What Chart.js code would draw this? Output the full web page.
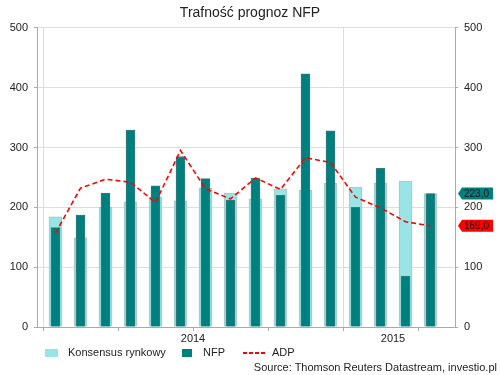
<!DOCTYPE html>
<html>
<head>
<meta charset="utf-8">
<script src="https://cdn.jsdelivr.net/npm/chart.js@4.4.1/dist/chart.umd.min.js"></script>
<style>
  html, body { margin: 0; padding: 0; background: #fff; }
  #wrap { position: relative; width: 500px; height: 375px; font-family: "Liberation Sans", Arial, sans-serif; color: #222; }
  #c { position: absolute; left: 0; top: 0; }
  .lg { position: absolute; font-size: 11px; line-height: 13px; white-space: nowrap; }
  .box { position: absolute; height: 8px; }
  .dash { position: absolute; height: 2px; width: 24px;
          background: linear-gradient(to right, #ff0000 0 4px, transparent 4px 6px); background-size: 6px 2px; }
</style>
</head>
<body>
<div id="wrap">
  <canvas id="c" width="500" height="375"></canvas>
  <div class="box" style="left:45px; top:349px; width:13px; background:#99e5e5;"></div>
  <div class="lg" style="left:68px; top:346px;">Konsensus rynkowy</div>
  <div class="box" style="left:182px; top:349px; width:10px; background:#007f7f;"></div>
  <div class="lg" style="left:203px; top:346px;">NFP</div>
  <div class="dash" style="left:243px; top:352px;"></div>
  <div class="lg" style="left:272px; top:346px;">ADP</div>
  <div class="lg" style="right:3px; top:361px;">Source: Thomson Reuters Datastream, investio.pl</div>
</div>
<script>
// ---- data ----
const months = ['2014-01','2014-02','2014-03','2014-04','2014-05','2014-06','2014-07','2014-08',
                '2014-09','2014-10','2014-11','2014-12','2015-01','2015-02','2015-03','2015-04'];
const consensus = [184, 149, 200, 209, 217, 211, 232, 224, 214, 231, 229, 240, 234, 240, 244, 223];
const nfp       = [166, 187, 224, 329, 236, 285, 248, 212, 249, 220, 423, 328, 200, 265, 85, 223];
const adp       = [157, 232, 247, 242, 208, 295, 231, 214, 249, 230, 283, 275, 217, 199, 176, 169];
const yTicks = [0, 100, 200, 300, 400, 500];
const yearLabels = { '5.5': '2014', '13.5': '2015' };
const quarterTicks = [-0.5, 2.5, 5.5, 8.5, 11.5, 14.5];

const pts = arr => arr.map((v, i) => ({ x: i, y: v }));

Chart.defaults.font.family = '"Liberation Sans", Arial, sans-serif';
Chart.defaults.font.size = 11;
Chart.defaults.color = '#222';

const tagPlugin = {
  id: 'tags',
  afterDatasetsDraw(chart) {
    const ctx = chart.ctx, y = chart.scales.y;
    const tags = [
      { v: nfp[nfp.length - 1], bg: '#007f7f' },
      { v: adp[adp.length - 1], bg: '#ff0000' }
    ];
    ctx.save();
    tags.forEach(t => {
      const py = y.getPixelForValue(t.v);
      const x0 = 458, x1 = 462, x2 = 493, h = 6;
      ctx.fillStyle = t.bg;
      ctx.beginPath();
      ctx.moveTo(x0, py);
      ctx.lineTo(x1, py - h);
      ctx.lineTo(x2, py - h);
      ctx.lineTo(x2, py + h);
      ctx.lineTo(x1, py + h);
      ctx.closePath();
      ctx.fill();
      ctx.fillStyle = '#111';
      ctx.font = '10px "Liberation Sans", Arial, sans-serif';
      ctx.textBaseline = 'middle';
      ctx.textAlign = 'left';
      ctx.fillText(t.v.toFixed(1).replace('.', ','), 464, py + 0.5);
    });
    ctx.restore();
  }
};

new Chart(document.getElementById('c'), {
  type: 'bar',
  data: {
    datasets: [
      { label: 'Konsensus rynkowy', data: pts(consensus), backgroundColor: '#99e5e5',
        borderColor: '#a9c3c3', borderWidth: 1, barThickness: 13, grouped: false, order: 2 },
      { label: 'NFP', data: pts(nfp), backgroundColor: '#007f7f',
        borderColor: '#3d7a7a', borderWidth: 1, barThickness: 9, grouped: false, order: 1 },
      { label: 'ADP', type: 'line', data: pts(adp), borderColor: '#ff0000', borderWidth: 1.6,
        borderDash: [5, 3], pointRadius: 0, fill: false, tension: 0, order: 0 }
    ]
  },
  options: {
    responsive: false,
    animation: false,
    layout: { padding: { left: 0, right: 0, top: 0, bottom: 30 } },
    plugins: {
      legend: { display: false },
      tooltip: { enabled: false },
      title: { display: true, text: 'Trafność prognoz NFP', color: '#222',
               font: { size: 14, weight: 'normal' }, padding: { top: 5, bottom: 6 } }
    },
    scales: {
      x: {
        type: 'linear', min: -0.74, max: 15.98, offset: false,
        afterBuildTicks: s => { s.ticks = quarterTicks.concat([13.5]).sort((a, b) => a - b).map(v => ({ value: v })); },
        afterFit: s => { s.height = 18; },
        ticks: { callback: v => yearLabels[String(v)] || '', maxRotation: 0, autoSkip: false, padding: 1, color: '#222' },
        grid: {
          offset: false,
          color: c => (c.tick && (c.tick.value === -0.5 || c.tick.value === 11.5)) ? '#dcdcdc' : 'rgba(0,0,0,0)',
          tickColor: c => (c.tick && c.tick.value === 13.5) ? 'rgba(0,0,0,0)' : '#aaa',
          tickLength: 4
        },
        border: { color: '#aaa' }
      },
      y: {
        position: 'left', min: 0, max: 500,
        afterBuildTicks: s => { s.ticks = yTicks.map(v => ({ value: v })); },
        afterFit: s => { s.width = 37; },
        ticks: { padding: 6, color: '#222' },
        grid: { color: '#dedede', tickColor: '#aaa', tickLength: 3 },
        border: { color: '#aaa' }
      },
      y2: {
        position: 'right', min: 0, max: 500,
        afterBuildTicks: s => { s.ticks = yTicks.map(v => ({ value: v })); },
        afterFit: s => { s.width = 45; },
        ticks: { padding: 6, color: '#222' },
        grid: { drawOnChartArea: false, tickColor: '#aaa', tickLength: 3 },
        border: { color: '#aaa' }
      }
    }
  },
  plugins: [tagPlugin]
});
</script>
</body>
</html>
